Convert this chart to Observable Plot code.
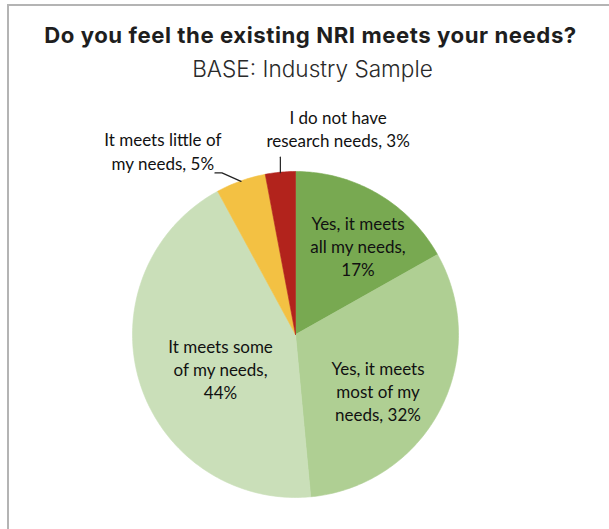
<!DOCTYPE html>
<html>
<head>
<meta charset="utf-8">
<script src="https://cdn.jsdelivr.net/npm/d3@7"></script>
<script src="https://cdn.jsdelivr.net/npm/@observablehq/plot@0.6"></script>
<style>
  html, body { margin: 0; padding: 0; background: #fff; }
  body { width: 609px; height: 529px; position: relative; overflow: hidden; }
  #frame { position: absolute; left: 7px; top: 4px; width: 610px; height: 540px;
           border-top: 2px solid #b4b4b4; border-left: 2px solid #b4b4b4; }
  #title { position: absolute; left: 12px; width: 597px; top: 21px; text-align: center;
           font-family: Inter, "Liberation Sans", sans-serif; font-weight: 700; font-size: 22.2px;
           line-height: 28px; color: #1e1e1e; letter-spacing: 0.55px; white-space: nowrap; }
  #subtitle { position: absolute; left: 14px; width: 597px; top: 55px; text-align: center;
           font-family: Inter, "Liberation Sans", sans-serif; font-weight: 300; font-size: 22.6px;
           line-height: 28px; color: #2a2a2a; }
  #chart { position: absolute; left: 0; top: 90px; }
</style>
</head>
<body>
<div id="frame"></div>
<div id="title">Do you feel the existing NRI meets your needs?</div>
<div id="subtitle">BASE: Industry Sample</div>
<div id="chart"></div>
<script>
// ---- data ----
const categories = [
  "Yes, it meets all my needs",
  "Yes, it meets most of my needs",
  "It meets some of my needs",
  "It meets little of my needs",
  "I do not have research needs"
];
const values = [17, 32, 44, 5, 3];
const labels = [
  "Yes, it meets\nall my needs,\n17%",
  "Yes, it meets\nmost of my\nneeds, 32%",
  "It meets some\nof my needs,\n44%",
  "It meets little of\nmy needs, 5%",
  "I do not have\nresearch needs, 3%"
];
const colors = ["#78a951", "#afcf93", "#cadfb9", "#f3c143", "#b2231c"];

// ---- layout ----
const W = 609, H = 439;
const cx = 295, cy = 244, R = 163;
// label placement: [radius in px from centre, angle nudge (deg), dx, dy]
const labelPlace = [
  [106, 0, 9, 3],
  [101, 0, -7, 9],
  [81.5, 0, 3, 10],
  [225, -15.6, -3, 0],
  [211, 17, 0, 0]
];

const arcs = d3.pie().sort(null).value(d => d.value)(
  categories.map((c, i) => ({category: c, value: values[i], color: colors[i], label: labels[i]}))
);

const polar = (a, r) => [cx + r * Math.sin(a), cy - r * Math.cos(a)];

// slice outlines as polygons
const slicePts = [];
arcs.forEach(a => {
  const n = Math.max(2, Math.ceil((a.endAngle - a.startAngle) / (Math.PI / 180)));
  slicePts.push({x: cx, y: cy, k: a.data.category});
  for (let j = 0; j <= n; j++) {
    const t = a.startAngle + (a.endAngle - a.startAngle) * j / n;
    const [x, y] = polar(t, R);
    slicePts.push({x, y, k: a.data.category});
  }
  slicePts.push({x: cx, y: cy, k: a.data.category});
});

const labelData = arcs.map((a, i) => {
  const mid = (a.startAngle + a.endAngle) / 2 + labelPlace[i][1] * Math.PI / 180;
  const [x, y] = polar(mid, labelPlace[i][0]);
  return {x: x + labelPlace[i][2], y: y + labelPlace[i][3], text: a.data.label};
});

// leader lines for the two small outside slices
const leaders = [];
{
  const a4 = arcs[3], m4 = (a4.startAngle + a4.endAngle) / 2;
  const [ex, ey] = polar(m4, R - 0.5);
  leaders.push({x: ex, y: ey, k: "a"}, {x: ex - 19, y: ey - 8.5, k: "a"}, {x: ex - 26, y: ey - 8.5, k: "a"});
  const a5 = arcs[4], m5 = (a5.startAngle + a5.endAngle) / 2;
  const [fx, fy] = polar(m5, R - 0.5);
  leaders.push({x: fx, y: fy, k: "b"}, {x: fx, y: fy - 15.5, k: "b"});
}

const chart = Plot.plot({
  width: W,
  height: H,
  margin: 0,
  x: {domain: [0, W], range: [0, W], axis: null},
  y: {domain: [0, H], range: [0, H], axis: null},
  color: {domain: categories, range: colors},
  style: {background: "transparent"},
  marks: [
    Plot.line(slicePts, {x: "x", y: "y", z: "k", fill: "k", stroke: "k", strokeWidth: 0.6, curve: "linear"}),
    Plot.line(leaders, {x: "x", y: "y", z: "k", stroke: "#222", strokeWidth: 1.2}),
    Plot.text(labelData, {
      x: "x", y: "y", text: "text",
      fontSize: 17, lineHeight: 1.36, lineAnchor: "middle", textAnchor: "middle",
      fill: "#111", fontFamily: "Lato, 'Open Sans', sans-serif"
    })
  ]
});
document.getElementById("chart").appendChild(chart);
</script>
</body>
</html>
